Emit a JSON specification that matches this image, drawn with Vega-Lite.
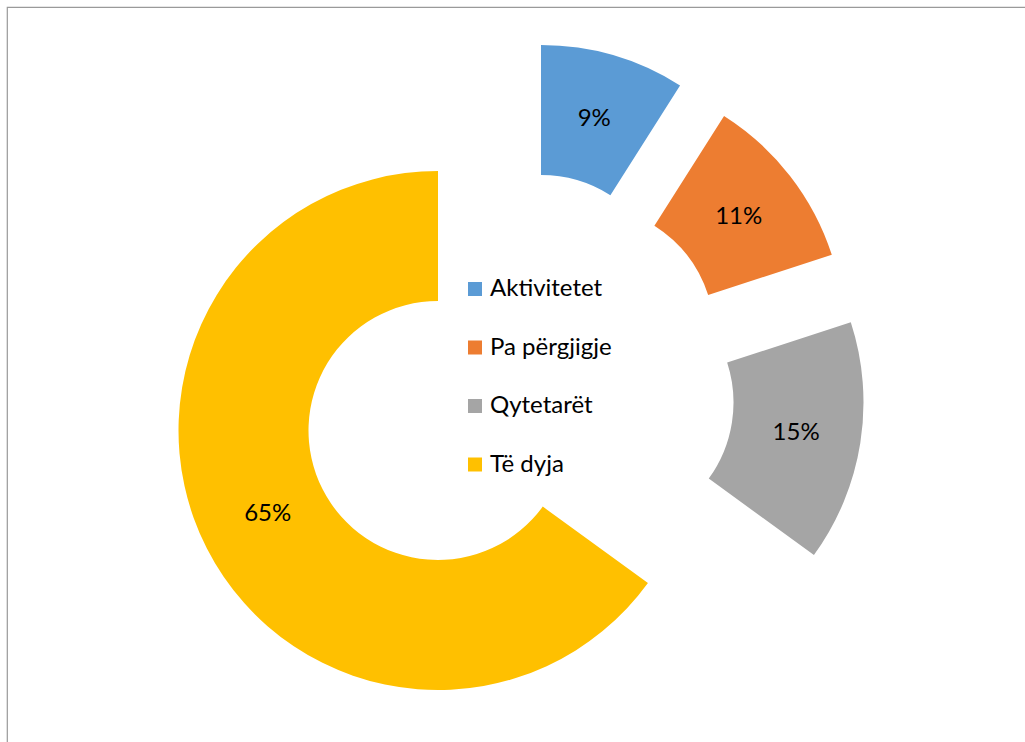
{
  "$schema": "https://vega.github.io/schema/vega-lite/v6.json",
  "width": 1030,
  "height": 760,
  "autosize": "none",
  "padding": {"left": 7, "top": 7, "right": 0, "bottom": 0},
  "background": "white",
  "view": {"stroke": "#9a9a9a", "strokeWidth": 1.2},
  "config": {
    "view": {"stroke": "#9a9a9a", "strokeWidth": 1.2},
    "font": "Lato"
  },
  "data": {
    "values": [
      {"category": "Aktivitetet", "value": 0.09},
      {"category": "Pa përgjigje", "value": 0.11},
      {"category": "Qytetarët", "value": 0.15},
      {"category": "Të dyja", "value": 0.65}
    ]
  },
  "encoding": {
    "theta": {"field": "value", "type": "quantitative", "stack": true},
    "order": {"field": "category", "type": "ordinal", "sort": "ascending"},
    "color": {
      "field": "category",
      "type": "nominal",
      "scale": {
        "domain": ["Aktivitetet", "Pa përgjigje", "Qytetarët", "Të dyja"],
        "range": ["#5B9BD5", "#ED7D31", "#A5A5A5", "#FFC000"]
      },
      "legend": {
        "title": null,
        "orient": "none",
        "legendX": 456,
        "legendY": 270,
        "symbolType": "square",
        "symbolSize": 196,
        "symbolStrokeWidth": 0,
        "labelFont": "Lato",
        "labelFontSize": 24,
        "labelColor": "#000000",
        "labelOffset": 3,
        "rowPadding": 34.5,
        "padding": 0
      }
    }
  },
  "layer": [
    {
      "mark": {"type": "arc", "outerRadius": 259.5, "innerRadius": 129.5, "xOffset": 19, "yOffset": -82.5},
      "encoding": {"opacity": {"condition": {"test": "datum.category === 'Aktivitetet'", "value": 1}, "value": 0}}
    },
    {
      "mark": {"type": "arc", "outerRadius": 259.5, "innerRadius": 129.5, "xOffset": 63, "yOffset": -52},
      "encoding": {"opacity": {"condition": {"test": "datum.category === 'Pa përgjigje'", "value": 1}, "value": 0}}
    },
    {
      "mark": {"type": "arc", "outerRadius": 259.5, "innerRadius": 129.5, "xOffset": 82, "yOffset": 15.5},
      "encoding": {"opacity": {"condition": {"test": "datum.category === 'Qytetarët'", "value": 1}, "value": 0}}
    },
    {
      "mark": {"type": "arc", "outerRadius": 259.5, "innerRadius": 129.5, "xOffset": -84, "yOffset": 43.5},
      "encoding": {"opacity": {"condition": {"test": "datum.category === 'Të dyja'", "value": 1}, "value": 0}}
    },
    {
      "mark": {"type": "text", "radius": 194.5, "xOffset": 18, "yOffset": -81, "fontSize": 24, "font": "Lato", "align": "center", "baseline": "middle"},
      "encoding": {
        "text": {"field": "value", "type": "quantitative", "format": ".0%"},
        "color": {"value": "#000000"},
        "detail": {"field": "category", "type": "nominal"},
        "opacity": {"condition": {"test": "datum.category === 'Aktivitetet'", "value": 1}, "value": 0}
      }
    },
    {
      "mark": {"type": "text", "radius": 194.5, "xOffset": 63, "yOffset": -51, "fontSize": 24, "font": "Lato", "align": "center", "baseline": "middle"},
      "encoding": {
        "text": {"field": "value", "type": "quantitative", "format": ".0%"},
        "color": {"value": "#000000"},
        "detail": {"field": "category", "type": "nominal"},
        "opacity": {"condition": {"test": "datum.category === 'Pa përgjigje'", "value": 1}, "value": 0}
      }
    },
    {
      "mark": {"type": "text", "radius": 194.5, "xOffset": 82, "yOffset": 16, "fontSize": 24, "font": "Lato", "align": "center", "baseline": "middle"},
      "encoding": {
        "text": {"field": "value", "type": "quantitative", "format": ".0%"},
        "color": {"value": "#000000"},
        "detail": {"field": "category", "type": "nominal"},
        "opacity": {"condition": {"test": "datum.category === 'Qytetarët'", "value": 1}, "value": 0}
      }
    },
    {
      "mark": {"type": "text", "radius": 194.5, "xOffset": -81, "yOffset": 38.5, "fontSize": 24, "font": "Lato", "align": "center", "baseline": "middle"},
      "encoding": {
        "text": {"field": "value", "type": "quantitative", "format": ".0%"},
        "color": {"value": "#000000"},
        "detail": {"field": "category", "type": "nominal"},
        "opacity": {"condition": {"test": "datum.category === 'Të dyja'", "value": 1}, "value": 0}
      }
    }
  ]
}
